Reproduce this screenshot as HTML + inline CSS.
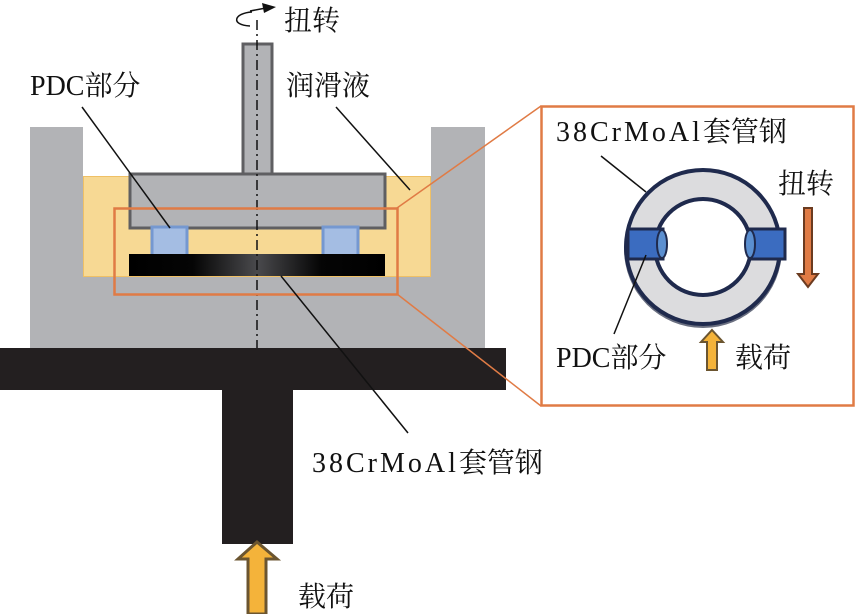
<!DOCTYPE html>
<html><head><meta charset="utf-8"><style>
html,body{margin:0;padding:0;background:#fff;}
svg{display:block}
text{font-family:"Liberation Serif","Noto Serif CJK SC",serif;font-size:28px;fill:#111;}
.w{letter-spacing:3px}
</style></head><body>
<svg width="856" height="614" viewBox="0 0 856 614" xmlns="http://www.w3.org/2000/svg">
<defs>
<linearGradient id="g" x1="0" x2="1" y1="0" y2="0">
<stop offset="0" stop-color="#000"/><stop offset="0.25" stop-color="#050505"/><stop offset="0.5" stop-color="#4a4a4d"/><stop offset="0.75" stop-color="#050505"/><stop offset="1" stop-color="#000"/>
</linearGradient>
</defs>
<rect x="30" y="127" width="53" height="222" fill="#b2b3b6"/>
<rect x="431" y="127" width="54" height="222" fill="#b2b3b6"/>
<rect x="83" y="276" width="348" height="73" fill="#b2b3b6"/>
<rect x="83.5" y="176.5" width="347" height="100" fill="#f7d994" stroke="#efc065" stroke-width="1"/>
<rect x="243" y="44" width="29" height="131" fill="#b2b3b6" stroke="#5f5f62" stroke-width="3"/>
<rect x="130" y="174" width="255" height="54" fill="#b2b3b6" stroke="#5f5f62" stroke-width="3"/>
<rect x="152" y="227" width="35" height="29" fill="#a4bde3" stroke="#7598d0" stroke-width="3"/>
<rect x="323" y="227" width="35" height="29" fill="#a4bde3" stroke="#7598d0" stroke-width="3"/>
<rect x="129" y="254" width="256" height="22" fill="url(#g)"/>
<line x1="257" y1="20" x2="257" y2="348" stroke="#111" stroke-width="1.5" stroke-dasharray="10,4,2,4"/>
<path d="M252 12 C234 13 230 25 250 26" fill="none" stroke="#111" stroke-width="1.5"/>
<path d="M250 11 L266 8" stroke="#111" stroke-width="1.5"/>
<path d="M262 3 L276 7 L264 13 Z" fill="#111"/>
<rect x="0" y="348" width="506" height="42" fill="#231f20"/>
<rect x="222" y="389" width="71" height="155" fill="#231f20"/>
<path d="M257 542 L277 559 L266 559 L266 614 L248 614 L248 559 L238 559 Z" fill="#f4b33a" stroke="#6b5530" stroke-width="3"/>
<rect x="114.5" y="208.5" width="283" height="86" fill="none" stroke="#e07b45" stroke-width="2.5"/>
<line x1="397" y1="208" x2="541" y2="106" stroke="#e07b45" stroke-width="1.5"/>
<line x1="397" y1="294" x2="541" y2="406" stroke="#e07b45" stroke-width="1.5"/>
<line x1="82" y1="107" x2="170" y2="228" stroke="#111" stroke-width="1.5"/>
<line x1="336" y1="107" x2="410" y2="190" stroke="#111" stroke-width="1.5"/>
<line x1="281" y1="276" x2="408" y2="433" stroke="#111" stroke-width="1.5"/>
<text x="284" y="30">扭转</text>
<text x="30" y="95">PDC部分</text>
<text x="286" y="95">润滑液</text>
<text x="312" y="472"><tspan class="w">38CrMoAl</tspan>套管钢</text>
<text x="298" y="606">载荷</text>
<rect x="541.5" y="106.5" width="312" height="299" fill="#fff" stroke="#e07b45" stroke-width="2.5"/>
<circle cx="703" cy="249" r="79" fill="#6a6f80"/>
<circle cx="703" cy="247" r="77" fill="#dcdcde" stroke="#1f2a4d" stroke-width="4"/>
<circle cx="703" cy="247" r="48" fill="#fff" stroke="#1f2a4d" stroke-width="4"/>
<rect x="628" y="229" width="35" height="30" fill="#3b6cc0" stroke="#1f2a4d" stroke-width="3"/>
<ellipse cx="662" cy="244" rx="5" ry="14" fill="#5b8fd0" stroke="#1f2a4d" stroke-width="2"/>
<rect x="749" y="229" width="36" height="30" fill="#3b6cc0" stroke="#1f2a4d" stroke-width="3"/>
<ellipse cx="750" cy="244" rx="5" ry="14" fill="#5b8fd0" stroke="#1f2a4d" stroke-width="2"/>
<line x1="601" y1="156" x2="646" y2="192" stroke="#111" stroke-width="1.5"/>
<line x1="646" y1="255" x2="614" y2="334" stroke="#111" stroke-width="1.5"/>
<path d="M804 208 L812 208 L812 274 L818 274 L808 287 L798 274 L804 274 Z" fill="#e07b45" stroke="#6b3b20" stroke-width="2"/>
<path d="M712 330 L723 342 L717 342 L717 370 L707 370 L707 342 L701 342 Z" fill="#f4b33a" stroke="#6b5530" stroke-width="2"/>
<text x="556" y="141"><tspan class="w">38CrMoAl</tspan>套管钢</text>
<text x="778" y="193">扭转</text>
<text x="556" y="367">PDC部分</text>
<text x="735" y="367">载荷</text>
</svg>
</body></html>
